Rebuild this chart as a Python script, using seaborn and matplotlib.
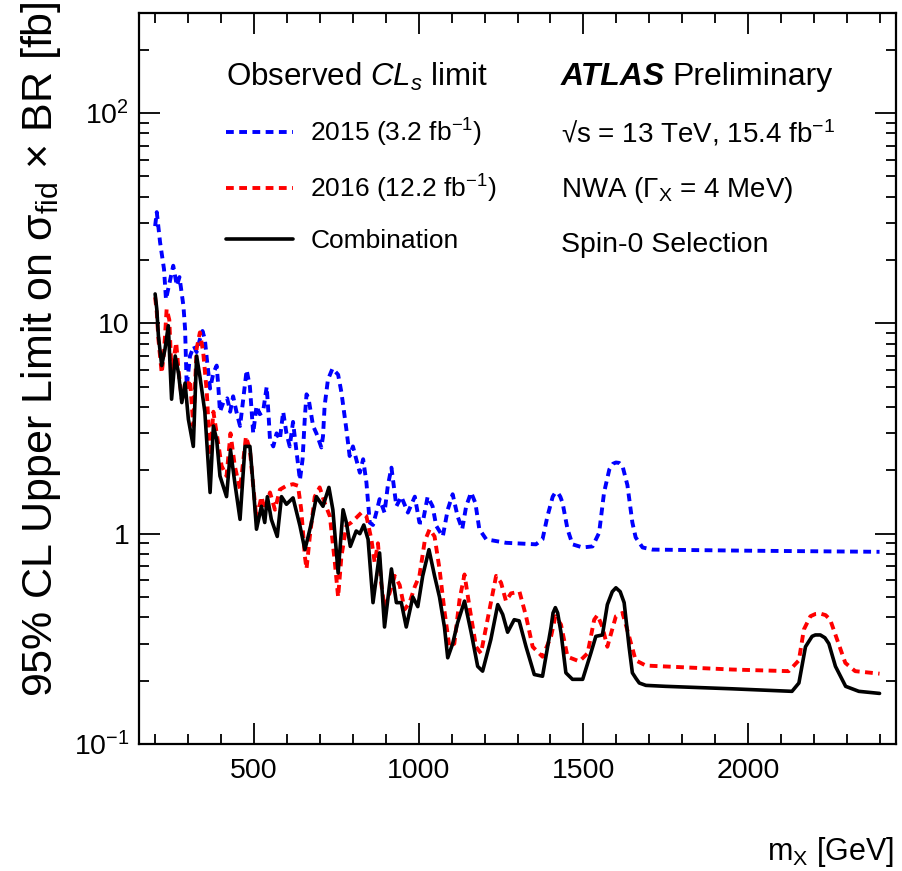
import matplotlib
matplotlib.use("Agg")
import matplotlib.pyplot as plt
import matplotlib.ticker as mticker
import seaborn as sns
import pandas as pd
import numpy as np

# observed limits (GeV, fb)
mass_2015 = [199, 204, 214, 226, 232, 242, 254, 265, 273, 285, 290, 295, 305, 317, 325, 335, 343, 350, 356, 366,
             376, 386, 391, 396, 406, 418, 427, 436, 446, 457, 467, 477, 487, 497, 507, 517, 527, 538, 543, 548,
             558, 568, 578, 588, 598, 608, 618, 628, 639, 647, 654, 659, 665, 679, 689, 704, 709, 714, 724, 738,
             755, 765, 780, 790, 800, 810, 821, 831, 841, 851, 861, 871, 881, 896, 906, 917, 932, 947, 967, 988,
             1002, 1012, 1027, 1042, 1053, 1073, 1088, 1103, 1118, 1132, 1144, 1159, 1172, 1184, 1205, 1265, 1356,
             1376, 1391, 1407, 1414, 1422, 1430, 1437, 1452, 1467, 1498, 1528, 1548, 1563, 1579, 1590, 1599, 1609,
             1619, 1634, 1649, 1659, 1680, 1710, 2000, 2400]
limit_2015 = [29, 33.8, 24.3, 18.1, 13, 15.4, 18.8, 15.1, 16.6, 12.1, 9.4, 5.0, 7.0, 7.8, 7.3, 8.4, 9.2, 8.4, 6.8, 4.9,
              5.8, 6.3, 5.0, 3.8, 4.2, 4.4, 3.8, 4.5, 3.8, 3.25, 4.4, 6.0, 5.0, 3.0, 4.05, 3.7, 3.8, 5.0, 3.8, 2.8,
              2.6, 3.0, 2.8, 3.8, 3.0, 2.6, 3.4, 2.5, 1.8, 2.26, 3.6, 4.6, 4.4, 3.25, 3.0, 2.57, 2.9, 4.05, 5.4, 6.1,
              5.7, 4.7, 3.14, 2.34, 2.6, 2.26, 1.95, 2.26, 1.75, 1.13, 1.1, 1.26, 1.46, 1.26, 1.69, 2.06, 1.35, 1.5,
              1.26, 1.5, 1.13, 1.13, 1.5, 1.35, 1.09, 0.97, 1.3, 1.54, 1.21, 1.05, 1.35, 1.57, 1.4, 1.05, 0.94, 0.905,
              0.89, 0.94, 1.21, 1.5, 1.56, 1.57, 1.5, 1.4, 1.05, 0.89, 0.86, 0.87, 1.01, 1.57, 2.02, 2.15, 2.18, 2.17,
              2.1, 1.7, 1.13, 0.96, 0.86, 0.84, 0.83, 0.82]

mass_2016 = [199, 204, 209, 219, 226, 234, 242, 249, 263, 270, 280, 290, 305, 315, 325, 335, 345, 356, 366, 376,
             386, 401, 416, 428, 441, 457, 475, 487, 497, 507, 522, 532, 548, 563, 578, 598, 618, 633, 643, 654,
             659, 669, 684, 699, 714, 730, 745, 755, 765, 780, 795, 810, 826, 841, 856, 866, 876, 886, 896, 911,
             927, 942, 957, 972, 988, 1002, 1018, 1033, 1048, 1063, 1078, 1093, 1108, 1124, 1139, 1154, 1174, 1189,
             1215, 1235, 1250, 1265, 1280, 1306, 1326, 1346, 1376, 1402, 1415, 1432, 1452, 1488, 1513, 1533, 1543,
             1558, 1573, 1599, 1619, 1639, 1659, 1690, 1952, 2124, 2155, 2170, 2190, 2205, 2220, 2236, 2250, 2271,
             2296, 2326, 2400]
limit_2016 = [13.3, 11.3, 8.4, 5.8, 7.3, 11.7, 10.4, 5.8, 8.1, 6.0, 4.36, 4.7, 5.4, 3.25, 7.55, 9.06, 7.3, 4.7, 2.34,
              3.8, 3.0, 2.1, 1.88, 3.0, 2.1, 1.62, 2.9, 2.5, 1.69, 1.17, 1.5, 1.3, 1.57, 1.3, 1.62, 1.69, 1.72, 1.69,
              1.3, 0.78, 0.68, 0.97, 1.5, 1.66, 1.4, 1.21, 0.73, 0.50, 0.78, 1.09, 1.13, 1.19, 1.26, 1.21, 0.94, 0.73,
              0.9, 0.58, 0.445, 0.52, 0.63, 0.57, 0.436, 0.47, 0.56, 0.63, 0.92, 1.05, 0.97, 0.68, 0.43, 0.29, 0.30,
              0.487, 0.64, 0.45, 0.29, 0.27, 0.436, 0.63, 0.585, 0.478, 0.52, 0.53, 0.405, 0.29, 0.26, 0.325, 0.405,
              0.37, 0.26, 0.247, 0.27, 0.39, 0.41, 0.36, 0.29, 0.405, 0.42, 0.325, 0.25, 0.236, 0.226, 0.222, 0.25,
              0.35, 0.405, 0.415, 0.417, 0.41, 0.39, 0.314, 0.243, 0.222, 0.216]

mass_comb = [199, 204, 209, 219, 229, 239, 249, 260, 270, 280, 290, 300, 315, 325, 335, 350, 366, 376, 386, 396,
             416, 428, 441, 457, 472, 487, 497, 507, 522, 532, 540, 552, 570, 583, 598, 618, 639, 654, 664, 674,
             689, 709, 727, 739, 755, 770, 780, 792, 810, 821, 833, 846, 861, 881, 896, 917, 932, 947, 962, 982,
             997, 1012, 1031, 1048, 1063, 1078, 1088, 1103, 1118, 1139, 1159, 1179, 1194, 1219, 1240, 1255, 1270,
             1290, 1305, 1326, 1351, 1376, 1402, 1408, 1415, 1422, 1432, 1447, 1467, 1498, 1523, 1538, 1558, 1573,
             1588, 1599, 1612, 1624, 1639, 1649, 1660, 1670, 1690, 1750, 1952, 2134, 2155, 2175, 2195, 2205, 2220,
             2234, 2246, 2266, 2297, 2337, 2400]
limit_comb = [13.8, 11.7, 8.7, 6.3, 7.55, 9.75, 4.36, 7.0, 5.8, 4.2, 5.2, 3.5, 2.6, 7.0, 5.6, 3.8, 1.57, 3.25, 2.8,
              1.88, 1.5, 2.5, 1.75, 1.17, 2.6, 2.6, 1.69, 1.05, 1.35, 1.13, 1.5, 1.17, 0.97, 1.5, 1.38, 1.48, 1.09,
              0.84, 0.97, 1.13, 1.5, 1.35, 1.66, 1.3, 0.65, 1.3, 1.13, 0.87, 1.03, 1.0, 1.1, 0.94, 0.47, 0.81, 0.36,
              0.68, 0.47, 0.47, 0.36, 0.50, 0.45, 0.63, 0.84, 0.63, 0.50, 0.36, 0.257, 0.30, 0.377, 0.478, 0.34,
              0.234, 0.222, 0.314, 0.46, 0.413, 0.34, 0.39, 0.385, 0.29, 0.214, 0.21, 0.36, 0.42, 0.445, 0.42, 0.34,
              0.218, 0.203, 0.203, 0.271, 0.325, 0.33, 0.46, 0.53, 0.553, 0.53, 0.47, 0.29, 0.218, 0.205, 0.195,
              0.19, 0.188, 0.183, 0.178, 0.195, 0.29, 0.325, 0.33, 0.33, 0.32, 0.30, 0.234, 0.188, 0.178, 0.174]

labels = ["2015 (3.2 fb$^{-1}$)", "2016 (12.2 fb$^{-1}$)", "Combination"]

sns.set_style("ticks")
plt.rcParams["font.family"] = ["Liberation Sans", "DejaVu Sans"]
plt.rcParams["mathtext.fontset"] = "custom"
plt.rcParams["mathtext.rm"] = "Liberation Sans"
plt.rcParams["mathtext.it"] = "Liberation Sans:italic"
plt.rcParams["mathtext.bf"] = "Liberation Sans:bold"
for k in ["text.color", "axes.labelcolor", "xtick.color", "ytick.color", "axes.edgecolor"]:
    plt.rcParams[k] = "black"

W, H = 902, 871
fig = plt.figure(figsize=(W / 100, H / 100), dpi=100)
ax = fig.add_axes([139 / W, 1 - 744 / H, (896 - 139) / W, (744 - 12.7) / H])

df15 = pd.DataFrame({"m": mass_2015, "lim": limit_2015})
df16 = pd.DataFrame({"m": mass_2016, "lim": limit_2016})
dfc = pd.DataFrame({"m": mass_comb, "lim": limit_comb})

sns.lineplot(data=df15, x="m", y="lim", ax=ax, color="#0000ff", lw=2.8, label=labels[0], estimator=None)
sns.lineplot(data=df16, x="m", y="lim", ax=ax, color="#ff0000", lw=2.8, label=labels[1], estimator=None)
sns.lineplot(data=dfc, x="m", y="lim", ax=ax, color="black", lw=2.6, label=labels[2], estimator=None)
for ln in ax.get_lines()[:2]:
    ln.set_dashes((2.0, 1.4))

ax.set_yscale("log")
ax.set_xlim(150, 2450)
ax.set_ylim(0.1, 300)

ax.xaxis.set_major_locator(mticker.MultipleLocator(500))
ax.xaxis.set_minor_locator(mticker.MultipleLocator(100))
ax.yaxis.set_major_locator(mticker.FixedLocator([0.1, 1, 10, 100]))
ax.yaxis.set_major_formatter(mticker.FixedFormatter(["$10^{-1}$", "1", "10", "$10^{2}$"]))
ax.yaxis.set_minor_locator(mticker.LogLocator(base=10, subs=np.arange(2, 10)))
ax.yaxis.set_minor_formatter(mticker.NullFormatter())
ax.tick_params(which="both", direction="in", top=True, right=True, labelsize=20.5, width=1.3, colors="black")
ax.tick_params(which="major", length=15)
ax.tick_params(which="minor", length=7.5)
ax.tick_params(axis="x", pad=10)
ax.tick_params(axis="y", pad=7)
for sp in ax.spines.values():
    sp.set_linewidth(1.6)
    sp.set_color("black")
ax.set_xlabel("")
ax.set_ylabel("")

fig.text(894 / W, 1 - 860 / H, "m$_{\\mathrm{X}}$ [GeV]", ha="right", va="baseline", fontsize=22)
fig.text(41 / W, 1 - 1 / H, "95% CL Upper Limit on σ$_{\\mathrm{fid}}$ × BR [fb]", rotation=90,
         ha="center", va="top", fontsize=31)

leg = ax.legend(loc="upper left", bbox_to_anchor=((226 - 139) / 757, 1 - (61 - 12.7) / 731.3),
                title="Observed $CL_s$ limit", title_fontsize=22.5, fontsize=19, frameon=False,
                alignment="left", handlelength=2.55, handletextpad=0.65, labelspacing=0.9,
                borderaxespad=0, borderpad=0)

tx = 561 / W
t1 = fig.text(tx, 1 - 85 / H, "ATLAS", fontsize=23, fontweight="bold", fontstyle="italic", va="baseline")
fig.canvas.draw()
bb = t1.get_window_extent()
fig.text(bb.x1 / W + 7 / W, 1 - 85 / H, "Preliminary", fontsize=23, va="baseline")
fig.text(tx, 1 - 142 / H, "√s = 13 TeV, 15.4 fb$^{-1}$", fontsize=20, va="baseline")
fig.text(tx, 1 - 197 / H, "NWA (Γ$_{\\mathrm{X}}$ = 4 MeV)", fontsize=20, va="baseline")
fig.text(tx, 1 - 252 / H, "Spin-0 Selection", fontsize=20.5, va="baseline")

fig.savefig("out.png", dpi=100)
